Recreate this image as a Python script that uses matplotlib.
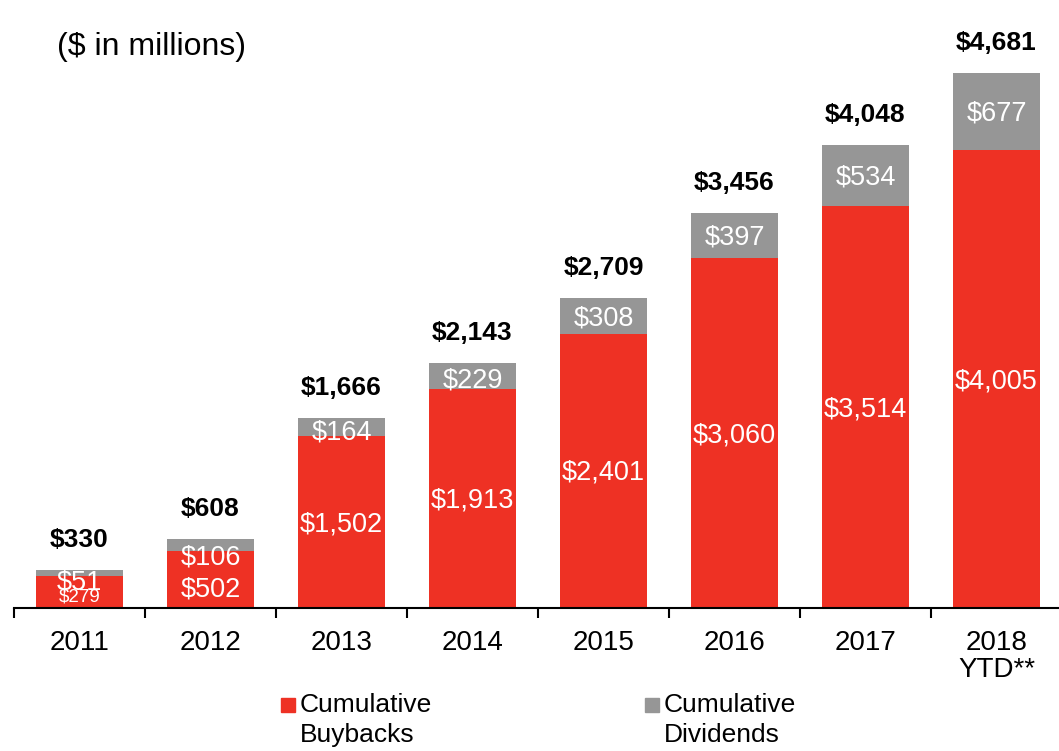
import numpy as np
import matplotlib.pyplot as plt
from matplotlib.patches import Rectangle

plt.rcParams['font.family'] = ['Liberation Sans', 'DejaVu Sans']

years = ['2011', '2012', '2013', '2014', '2015', '2016', '2017', '2018\nYTD**']
buybacks = [279, 502, 1502, 1913, 2401, 3060, 3514, 4005]
dividends = [51, 106, 164, 229, 308, 397, 534, 677]
totals = [330, 608, 1666, 2143, 2709, 3456, 4048, 4681]

red = '#EE3124'
grey = '#969696'

# label nudges (pixels, downward) for the thin segments at the left
nudge_buy = [3, 8, 0, 0, 0, 0, 0, 0]
nudge_div = [7, 11, 3.5, 2, 0, 0, 0, 0]

fig = plt.figure(figsize=(10.59, 7.51), dpi=100)
ax = fig.add_axes([14 / 1059, 143 / 751, 1048 / 1059, 608 / 751])

x = np.arange(len(years))
w = 0.66
ax.bar(x, buybacks, width=w, color=red)
ax.bar(x, dividends, width=w, bottom=buybacks, color=grey)

px = 72 / 100
for i in range(len(years)):
    b, d = buybacks[i], dividends[i]
    small = b < 400
    ax.annotate(f'${b:,}', (x[i], b / 2), xytext=(0, -(nudge_buy[i] + 2) * px),
                textcoords='offset points', ha='center', va='center',
                color='white', fontsize=13.5 if small else 19.5)
    ax.annotate(f'${d:,}', (x[i], b + d / 2), xytext=(0, -(nudge_div[i] + 2) * px),
                textcoords='offset points', ha='center', va='center',
                color='white', fontsize=19.5)
    # totals above each stack
    ax.annotate(f'${totals[i]:,}', (x[i], b + d), xytext=(0, 16.5),
                textcoords='offset points', ha='center', va='baseline',
                fontsize=19, fontweight='bold')

ax.set_xlim(-0.5, 7.5)
ax.set_ylim(0, 5320)
for s in ['top', 'right', 'left']:
    ax.spines[s].set_visible(False)
ax.spines['bottom'].set_linewidth(1.5)
ax.set_yticks([])

ax.set_xticks(x)
ax.set_xticklabels(years, fontsize=20, linespacing=1.06)
ax.tick_params(axis='x', which='major', length=0, pad=16)
ax.set_xticks(np.arange(-0.5, 8, 1), minor=True)
ax.tick_params(axis='x', which='minor', length=7, width=1.5, direction='out')

fig.text(57 / 1059, 1 - 47 / 751, '($ in millions)', fontsize=23,
         ha='left', va='center')

# legend drawn by hand: square + two-line label
for lx, col, lab in [(281, red, 'Cumulative\nBuybacks'),
                     (645, grey, 'Cumulative\nDividends')]:
    fig.add_artist(Rectangle((lx / 1059, 1 - 712 / 751), 14 / 1059, 14 / 751,
                             transform=fig.transFigure, color=col))
    fig.text((lx + 19) / 1059, 1 - 693 / 751, lab, fontsize=19,
             ha='left', va='top', linespacing=1.33)

fig.savefig('out.png', dpi=100)
